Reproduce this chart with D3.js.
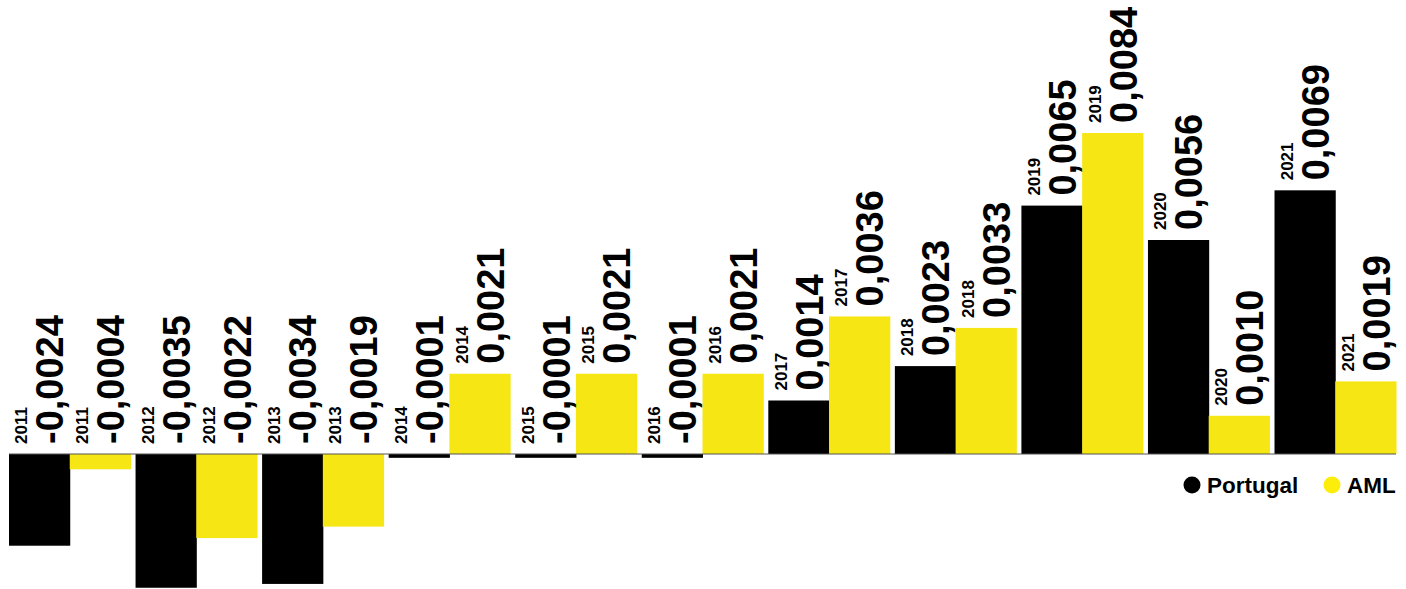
<!DOCTYPE html>
<html lang="en">
<head>
	<meta charset="UTF-8">
	<title>Portugal vs AML</title>
	<script src="https://d3js.org/d3.v7.min.js"></script>
	<style>
		body { margin: 0; background: #fff; }
		svg { display: block; }
		text { font-family: "Liberation Sans", Arial, sans-serif; font-weight: bold; fill: #000; }
	</style>
</head>
<body>
<div id="chart"></div>
<script>
	const years = ["2011", "2012", "2013", "2014", "2015", "2016", "2017", "2018", "2019", "2020", "2021"];
	const series = ["Portugal", "AML"];
	const portugal = [-0.0024, -0.0035, -0.0034, -0.0001, -0.0001, -0.0001, 0.0014, 0.0023, 0.0065, 0.0056, 0.0069];
	const aml = [-0.0004, -0.0022, -0.0019, 0.0021, 0.0021, 0.0021, 0.0036, 0.0033, 0.0084, 0.0010, 0.0019];

	const colors = { Portugal: "#000000", AML: "#f5e614" };
	const legendColors = { Portugal: "#000000", AML: "#fcee0a" };

	const sizeX = 1406, sizeY = 589;

	const svg = d3.create("svg")
		.attr("width", sizeX)
		.attr("height", sizeY);

	const x0 = d3.scaleBand()
		.domain(years)
		.range([9, 1396])
		.paddingInner(0.04)
		.paddingOuter(0);

	const x1 = d3.scaleBand()
		.domain(series)
		.range([0, x0.bandwidth()])
		.padding(0);

	const y = d3.scaleLinear()
		.domain([0, 0.0084])
		.range([454, 133]);

	const fmt = v => d3.format(".4f")(v).replace("−", "-").replace(".", ",");

	const rows = [];
	years.forEach((yr, i) => {
		rows.push({ year: yr, key: "Portugal", value: portugal[i] });
		rows.push({ year: yr, key: "AML", value: aml[i] });
	});

	// bars
	svg.append("g").selectAll("rect")
		.data(rows)
		.join("rect")
		.attr("x", d => x0(d.year) + x1(d.key))
		.attr("y", d => Math.min(y(d.value), y(0)))
		.attr("width", x1.bandwidth() + 0.5)
		.attr("height", d => Math.abs(y(d.value) - y(0)))
		.attr("fill", d => colors[d.key]);

	// baseline
	svg.append("line")
		.attr("x1", x0.range()[0])
		.attr("x2", x0.range()[1])
		.attr("y1", y(0))
		.attr("y2", y(0))
		.attr("stroke", "#555")
		.attr("stroke-width", 1.2);

	// rotated labels: year on the first line, value on the second
	const labels = svg.append("g").selectAll("g")
		.data(rows)
		.join("g")
		.attr("transform", d => {
			const cx = x0(d.year) + x1(d.key) + x1.bandwidth() / 2;
			const top = Math.min(y(d.value), y(0)) - 10;
			return `translate(${cx},${top}) rotate(-90)`;
		});

	labels.append("text")
		.attr("y", -12)
		.style("font-size", "17px")
		.text(d => d.year);

	labels.append("text")
		.attr("y", 24)
		.style("font-size", "38px")
		.text(d => fmt(d.value));

	// legend
	const legend = svg.append("g").attr("transform", "translate(1192,485)");
	const legendX = [0, 140];
	series.forEach((s, i) => {
		legend.append("circle")
			.attr("cx", legendX[i])
			.attr("cy", 0)
			.attr("r", 8.5)
			.attr("fill", legendColors[s]);
		legend.append("text")
			.attr("x", legendX[i] + 15)
			.attr("y", 8)
			.style("font-size", "22.5px")
			.text(s);
	});

	document.getElementById("chart").append(svg.node());
</script>
</body>
</html>
